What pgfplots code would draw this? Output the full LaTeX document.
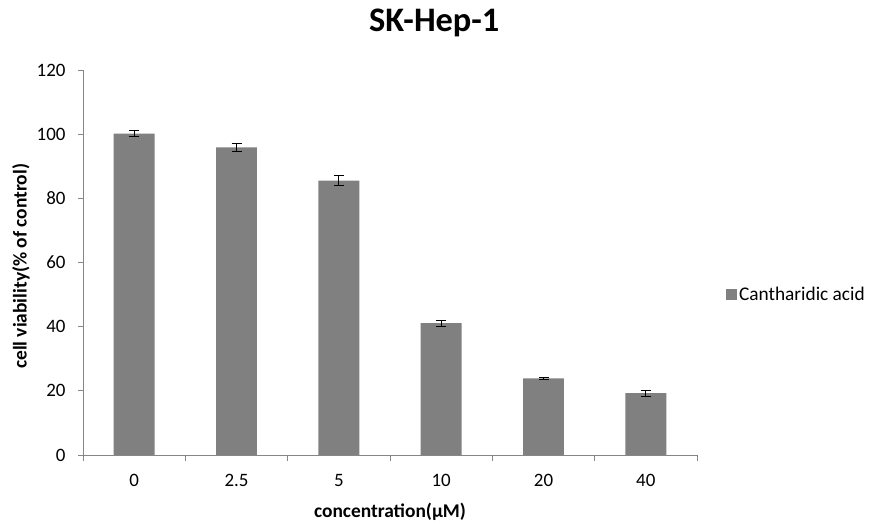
\documentclass[border=0pt]{standalone}
\usepackage{pgfplots}
\pgfplotsset{compat=1.18}
\usepackage{fontspec}
\setmainfont{Carlito}
\definecolor{barcol}{HTML}{808080}
\definecolor{axcol}{HTML}{868686}
\begin{document}
\begin{tikzpicture}[x=1bp,y=1bp]
\path[use as bounding box] (0,0) rectangle (869,525);
\begin{axis}[
  at={(83bp,70bp)}, anchor=south west,
  scale only axis, width=614bp, height=385bp,
  ybar, bar width=0.4,
  xmin=-0.5, xmax=5.5, ymin=0, ymax=120,
  ytick={0,20,...,120},
  xtick={0,...,5}, xticklabels={0,2.5,5,10,20,40},
  minor xtick={-0.5,0.5,...,5.5},
  axis x line*=bottom, axis y line*=left,
  axis line style={-, draw=axcol, line width=0.8bp},
  tick align=outside,
  major tick length=5bp, minor tick length=6bp,
  every tick/.style={draw=axcol, line width=0.8bp},
  major x tick style={draw=none},
  /pgf/number format/assume math mode=true,
  tick label style={font=\fontsize{19}{22}\selectfont, black},
  yticklabel style={xshift=-9bp},
  xticklabel style={yshift=-11bp},
  xlabel={\bfseries concentration(µM)},
  ylabel={\bfseries cell viability(\% of control)},
  xlabel style={font=\fontsize{19.5}{22}\selectfont, at={(axis description cs:0.5,-0.147)}, anchor=center},
  ylabel style={font=\fontsize{19.5}{22}\selectfont, at={(axis description cs:-0.101,0.49)}, anchor=center},
  title={\bfseries SK-Hep-1},
  title style={font=\fontsize{34.5}{38}\selectfont, at={(axis description cs:0.572,1.106)}, anchor=center},
  legend style={at={(axis description cs:1.047,0.416)}, anchor=west, draw=none, fill=none,
    font=\fontsize{19.4}{22}\selectfont, inner sep=0pt},
  legend image code/.code={\fill[barcol] (0bp,-5.5bp) rectangle (11bp,5.5bp);},
]
\addplot[fill=barcol, draw=none,
  error bars/.cd, y dir=both, y explicit,
  error bar style={black, line width=0.9bp},
  error mark options={rotate=90, mark size=5bp, black, line width=0.9bp}]
  coordinates {
  (0,100.2) +- (0,0.9)
  (1,95.9) +- (0,1.2)
  (2,85.5) +- (0,1.6)
  (3,41.1) +- (0,0.9)
  (4,23.9) +- (0,0.2)
  (5,19.3) +- (0,0.9)
};
\addlegendentry{Cantharidic acid}
\end{axis}
\end{tikzpicture}
\end{document}
